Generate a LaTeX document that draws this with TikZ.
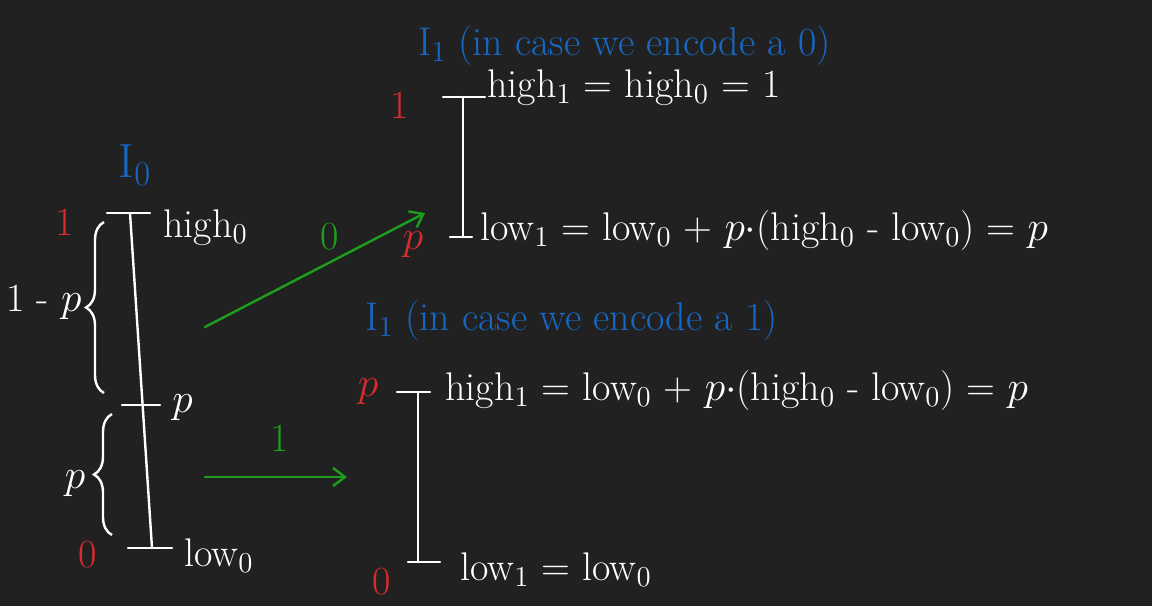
\documentclass[tikz,border=0pt]{standalone}
\usepackage{tikz}
\usetikzlibrary{arrows.meta,positioning,decorations.pathreplacing}
\definecolor{BoardBg}{RGB}{33,33,33}
\definecolor{InkRed}{RGB}{214,44,44}
\definecolor{InkBlue}{RGB}{22,104,196}
\definecolor{InkGreen}{RGB}{30,158,30}

\begin{document}
\begin{tikzpicture}[x=0.5pt,y=-0.5pt,>={Straight Barb[length=6pt,width=9pt]},
    ink/.style={white,font=\fontsize{20}{24}\selectfont,inner sep=0pt},
    redink/.style={InkRed,font=\fontsize{20}{24}\selectfont,inner sep=0pt},
    blueink/.style={InkBlue,font=\fontsize{20}{24}\selectfont,inner sep=0pt},
    greenink/.style={InkGreen,font=\fontsize{20}{24}\selectfont,inner sep=0pt},
    bar/.style={white,line width=1.2pt,line cap=round},
    flow/.style={->,InkGreen,line width=1.2pt,line cap=round},
    curly/.style={white,line width=1.2pt,decorate,decoration={brace,amplitude=9pt}}]
  \fill[BoardBg] (0,0) rectangle (1152,606);
  \useasboundingbox (0,0) rectangle (1152,606);

  % interval I_0
  \node[blueink,font=\fontsize{24}{28}\selectfont] (Izero) at (135,165) {I$_0$};
  \coordinate (hi0) at (130,213);
  \coordinate (mid0) at (142,405);
  \coordinate (lo0) at (152,548);
  \draw[bar] (hi0) -- (lo0);
  \draw[bar] (107,213) -- (150,213);
  \draw[bar] (122,405) -- (160,405);
  \draw[bar] (128,548) -- (172,548);
  \node[ink,anchor=base west] (high0) at (163,237) {high$_0$};
  \node[ink,anchor=base west] (pmid) at (172,412) {$p$};
  \node[ink,anchor=base west] (low0) at (184,566) {low$_0$};
  \node[redink] (one0) at (65,222) {1};
  \node[redink] (zero0) at (88,555) {0};
  \draw[curly] (104,393) -- (104,222);
  \draw[curly] (112,535) -- (112,414);
  \node[ink] (oneminusp) at (44,302) {1 - $p$};
  \node[ink] (pwidth) at (75,484) {$p$};

  % encode a 0
  \coordinate (fromzero) at (205,327);
  \coordinate (tozero) at (425,213);
  \draw[flow] (fromzero) -- (tozero);
  \node[greenink] (bitzero) at (330,237) {0};

  % encode a 1
  \coordinate (fromone) at (205,477);
  \coordinate (toone) at (347,477);
  \draw[flow] (fromone) -- (toone);
  \node[greenink] (bitone) at (280,438) {1};

  % interval I_1, case 0
  \node[blueink,anchor=base west] (titleA) at (418,55) {I$_1$ (in case we encode a 0)};
  \draw[bar] (463,97) -- (463,237);
  \draw[bar] (443,97) -- (485,97);
  \draw[bar] (450,237) -- (472,237);
  \node[redink] (oneA) at (400,105) {1};
  \node[redink] (pA) at (413,245) {$p$};
  \node[ink,anchor=base west] (highA) at (487,97) {high$_1$ = high$_0$ = 1};
  \node[ink,anchor=base west] (lowA) at (480,240) {low$_1$ = low$_0$ + $p\cdot$(high$_0$ - low$_0$) = $p$};

  % interval I_1, case 1
  \node[blueink,anchor=base west] (titleB) at (365,330) {I$_1$ (in case we encode a 1)};
  \draw[bar] (418,392) -- (418,562);
  \draw[bar] (397,392) -- (430,392);
  \draw[bar] (408,562) -- (440,562);
  \node[redink] (pB) at (368,392) {$p$};
  \node[redink] (zeroB) at (382,582) {0};
  \node[ink,anchor=base west] (highB) at (445,400) {high$_1$ = low$_0$ + $p\cdot$(high$_0$ - low$_0$) = $p$};
  \node[ink,anchor=base west] (lowB) at (460,580) {low$_1$ = low$_0$};
\end{tikzpicture}
\end{document}
